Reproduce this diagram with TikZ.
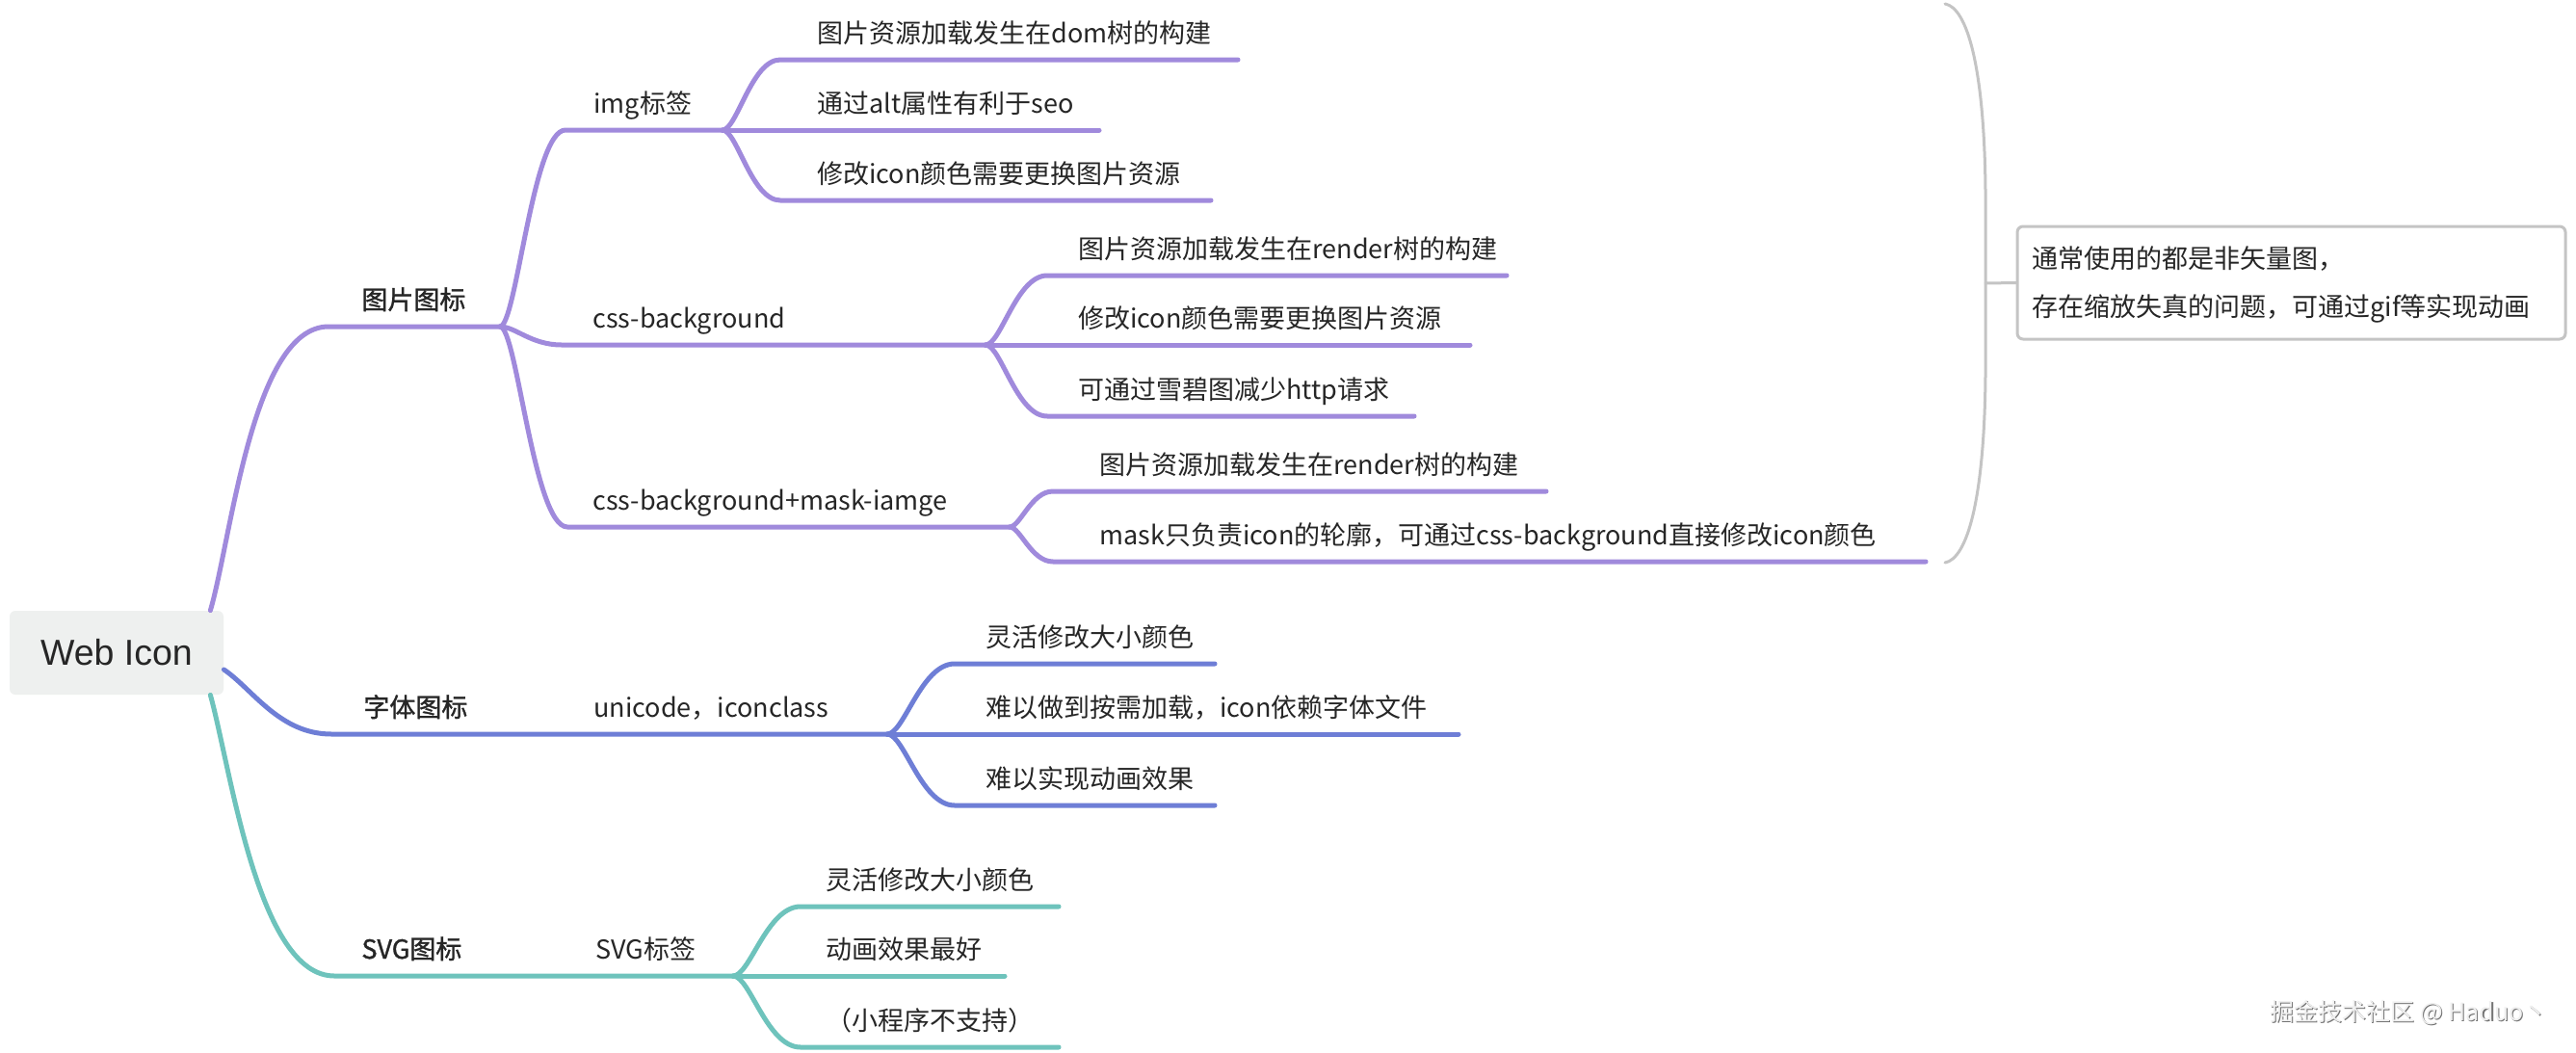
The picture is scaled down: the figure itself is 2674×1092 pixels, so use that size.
\documentclass[tikz,border=0pt]{standalone}
\usepackage{fontspec}
\setmainfont{Liberation Sans}
\newfontfamily\cjk{Noto Sans CJK SC}
\newfontfamily\cjkb[FakeBold=1.2]{Noto Sans CJK SC}
\newfontfamily\latinf{Liberation Sans}
\definecolor{purp}{RGB}{160,138,220}
\definecolor{blu}{RGB}{110,126,214}
\definecolor{tealc}{RGB}{110,195,188}
\definecolor{ink}{RGB}{38,38,38}
\definecolor{rootfill}{RGB}{238,240,239}
\definecolor{notegray}{RGB}{196,196,196}
\begin{document}
\begin{tikzpicture}[x=0.5pt,y=-0.5pt,
  txt/.style={font=\cjk\fontsize{13.5pt}{16pt}\selectfont, text=ink, anchor=base west, inner sep=0pt},
  lvone/.style={txt, font=\cjkb\fontsize{13.5pt}{16pt}\selectfont},
  br/.style={line width=2.5pt, line cap=round, line join=round},
  rootbox/.style={fill=rootfill, rounded corners=3pt, minimum width=111pt, minimum height=43.5pt, inner sep=0pt, font=\latinf\fontsize{18.75pt}{20pt}\selectfont, text=ink},
  notebox/.style={draw=notegray, line width=1.5pt, rounded corners=3pt, fill=white, minimum width=284.5pt, minimum height=58.5pt, inner sep=0pt},
  bracel/.style={draw=notegray, line width=1.5pt, line cap=round},
  wm/.style={font=\cjk\fontsize{12.5pt}{14pt}\selectfont, anchor=base west, inner sep=0pt}
]
\useasboundingbox (0,0) rectangle (2674,1092);
\fill[white] (0,0) rectangle (2674,1092);

% root
\node[rootbox] (root) at (121,677.5) {Web Icon};
\coordinate (pStart) at ([xshift=-7pt]root.north east);
\coordinate (bStart) at ([yshift=-8.75pt]root.east);
\coordinate (tStart) at ([xshift=-7pt]root.south east);

% level 1
\node[lvone] (tp) at (375,321) {图片图标};
\node[lvone] (zt) at (377,744) {字体图标};
\node[lvone] (sv) at (375,995) {SVG图标};
\coordinate (tpL) at (341,339);
\coordinate (tpF) at (519,339);
\coordinate (ztL) at (344,762);
\coordinate (svL) at (347,1013);

% level 2
\node[txt] (img) at (616,117) {img标签};
\node[txt] (css) at (615,340) {css-background};
\node[txt] (msk) at (615,529) {css-background+mask-iamge};
\node[txt] (uc) at (616,744) {unicode，iconclass};
\node[txt] (svt) at (618,995) {SVG标签};
\coordinate (imgL) at (587,135);  \coordinate (imgF) at (750,135);
\coordinate (cssL) at (583,358);  \coordinate (cssF) at (1023,358);
\coordinate (mskL) at (589,547);  \coordinate (mskF) at (1048,547);
\coordinate (ucF) at (921,762);
\coordinate (svF) at (761,1013);

% trunks
\draw[br,purp] (pStart) .. controls (240,560) and (262,339) .. (tpL) -- (tpF);
\draw[br,blu] (bStart) .. controls (262,715) and (290,762) .. (ztL) -- (ucF);
\draw[br,tealc] (tStart) .. controls (240,800) and (268,1013) .. (svL) -- (svF);

\draw[br,purp] (tpF) .. controls (536,339) and (553,135) .. (imgL) -- (imgF);
\draw[br,purp] (tpF) .. controls (535,339) and (551,358) .. (cssL) -- (cssF);
\draw[br,purp] (tpF) .. controls (536.5,339) and (554,547) .. (mskL) -- (mskF);

% img leaves
\node[txt] (i1) at (848,44) {图片资源加载发生在dom树的构建};
\node[txt] (i2) at (848,117) {通过alt属性有利于seo};
\node[txt] (i3) at (848,190) {修改icon颜色需要更换图片资源};
\coordinate (i1s) at (810,62);  \coordinate (i1e) at (1285,62);
\coordinate (i2e) at (1141,135);
\coordinate (i3s) at (810,208); \coordinate (i3e) at (1257,208);
\draw[br,purp] (imgF) .. controls (765,135) and (780,62) .. (i1s) -- (i1e);
\draw[br,purp] (imgF) -- (i2e);
\draw[br,purp] (imgF) .. controls (765,135) and (780,208) .. (i3s) -- (i3e);

% css leaves
\node[txt] (c1) at (1119,268) {图片资源加载发生在render树的构建};
\node[txt] (c2) at (1119,340) {修改icon颜色需要更换图片资源};
\node[txt] (c3) at (1119,414) {可通过雪碧图减少http请求};
\coordinate (c1s) at (1087,286); \coordinate (c1e) at (1564,286);
\coordinate (c2e) at (1526,358);
\coordinate (c3s) at (1087,432); \coordinate (c3e) at (1468,432);
\draw[br,purp] (cssF) .. controls (1039,358) and (1055,286) .. (c1s) -- (c1e);
\draw[br,purp] (cssF) -- (c2e);
\draw[br,purp] (cssF) .. controls (1039,358) and (1055,432) .. (c3s) -- (c3e);

% mask leaves
\node[txt] (m1) at (1141,492) {图片资源加载发生在render树的构建};
\node[txt] (m2) at (1141,565) {mask只负责icon的轮廓，可通过css-background直接修改icon颜色};
\coordinate (m1s) at (1093,510); \coordinate (m1e) at (1605,510);
\coordinate (m2s) at (1093,583); \coordinate (m2e) at (1999,583);
\draw[br,purp] (mskF) .. controls (1059,547) and (1070.5,510) .. (m1s) -- (m1e);
\draw[br,purp] (mskF) .. controls (1059,547) and (1070.5,583) .. (m2s) -- (m2e);

% unicode leaves
\node[txt] (u1) at (1023,671) {灵活修改大小颜色};
\node[txt] (u2) at (1023,744) {难以做到按需加载，icon依赖字体文件};
\node[txt] (u3) at (1023,818) {难以实现动画效果};
\coordinate (u1s) at (991,689); \coordinate (u1e) at (1261,689);
\coordinate (u2e) at (1514,762);
\coordinate (u3s) at (991,836); \coordinate (u3e) at (1261,836);
\draw[br,blu] (ucF) .. controls (938.5,762) and (956,689) .. (u1s) -- (u1e);
\draw[br,blu] (ucF) -- (u2e);
\draw[br,blu] (ucF) .. controls (938.5,762) and (956,836) .. (u3s) -- (u3e);

% svg leaves
\node[txt] (s1) at (857,923) {灵活修改大小颜色};
\node[txt] (s2) at (857,995) {动画效果最好};
\node[txt] (s3) at (857,1069) {（小程序不支持）};
\coordinate (s1s) at (831,941); \coordinate (s1e) at (1099,941);
\coordinate (s2e) at (1043,1013);
\coordinate (s3s) at (831,1087); \coordinate (s3e) at (1099,1087);
\draw[br,tealc] (svF) .. controls (778.5,1013) and (796,941) .. (s1s) -- (s1e);
\draw[br,tealc] (svF) -- (s2e);
\draw[br,tealc] (svF) .. controls (778.5,1013) and (796,1087) .. (s3s) -- (s3e);

% brace and note
\node[notebox] (note) at (2378.5,293.5) {};
\node[txt] (n1) at (2109,278) {通常使用的都是非矢量图，};
\node[txt] (n2) at (2109,328) {存在缩放失真的问题，可通过gif等实现动画};
\coordinate (bTop) at (2019,4);
\coordinate (bBot) at (2019,584);
\coordinate (bMid) at (2061,294);
\draw[bracel] (bTop) .. controls (2042,8) and (2060,70) .. (2061,200) -- (bMid) -- (2061,388) .. controls (2060,518) and (2042,580) .. (bBot);
\draw[bracel] (bMid) -- (note.west);

% watermark
\node[wm, text=black!55] (wmshadow) at (2357.5,1060.5) {掘金技术社区 @ Haduo丶};
\node[wm, text=black!6] (wmark) at (2356,1059) {掘金技术社区 @ Haduo丶};
\end{tikzpicture}
\end{document}
